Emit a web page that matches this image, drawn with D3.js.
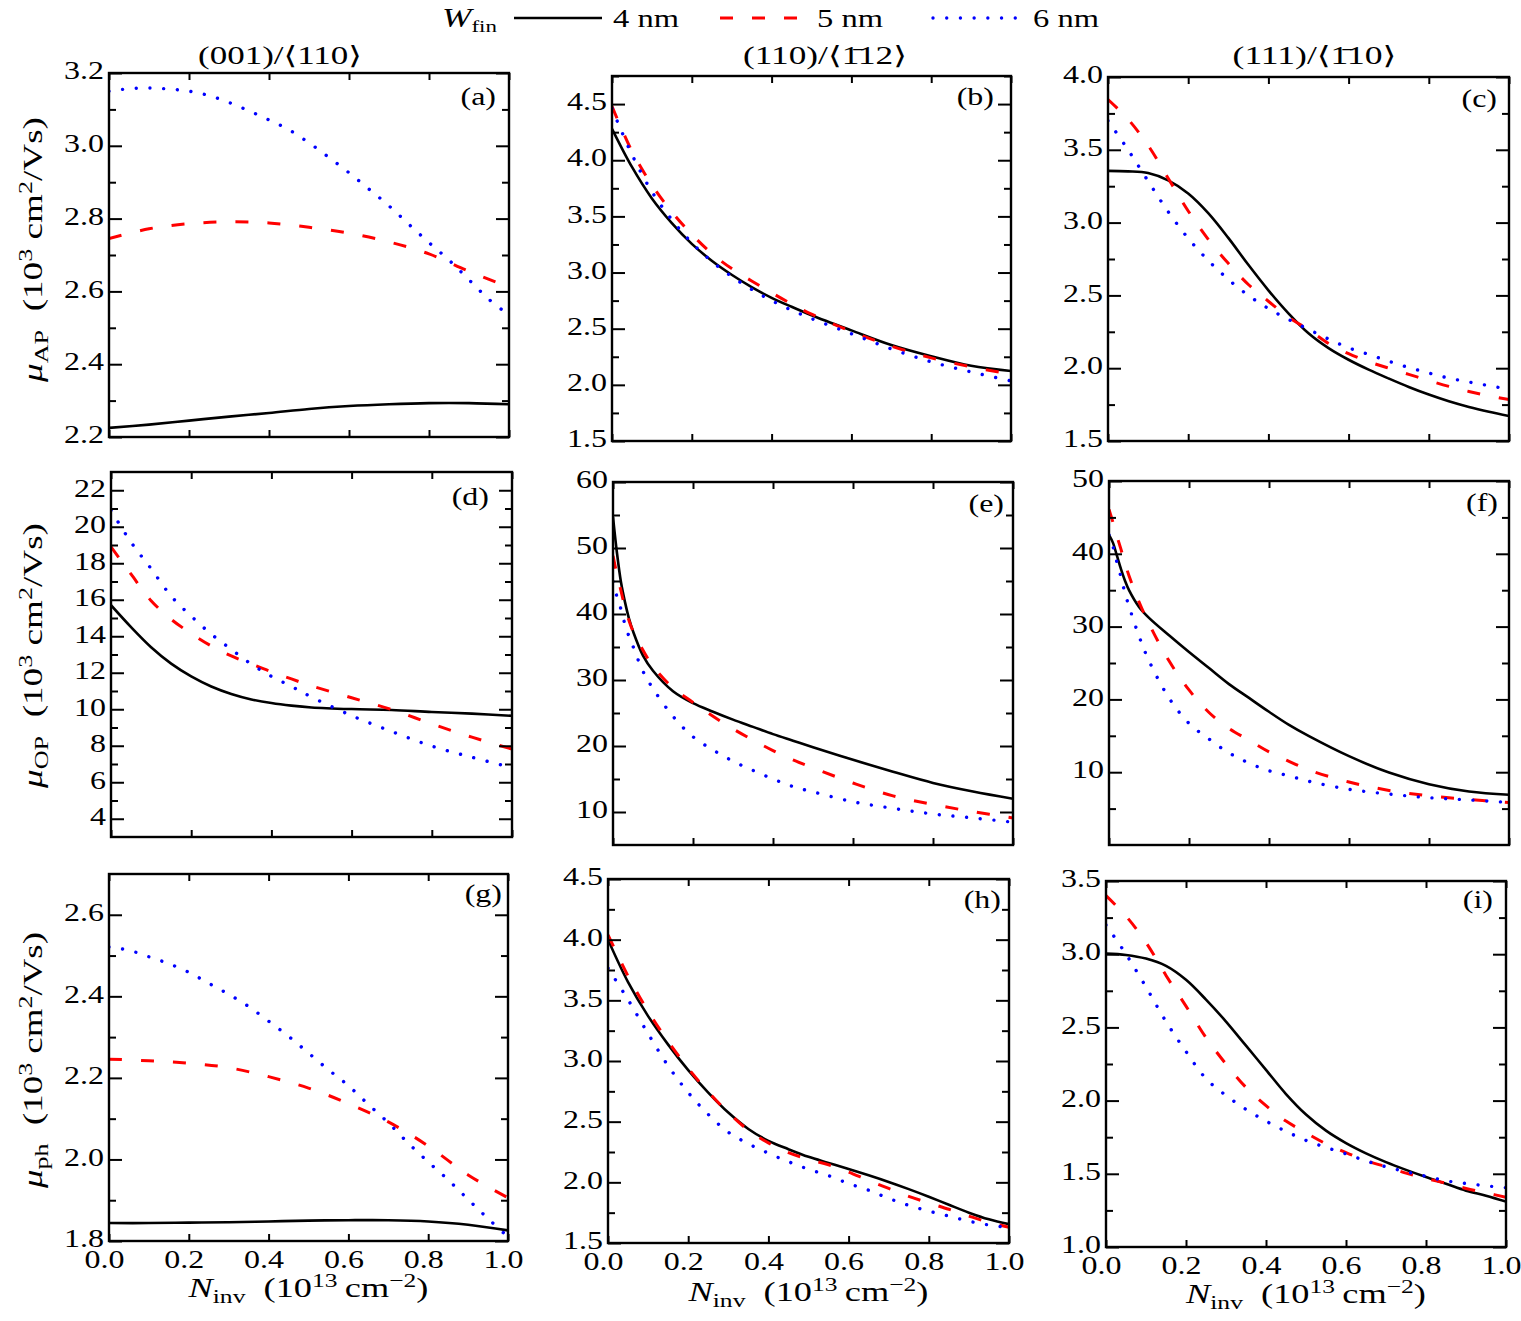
<!DOCTYPE html>
<html><head><meta charset="utf-8">
<script src="https://cdn.jsdelivr.net/npm/d3@7"></script>
<style>
body{margin:0;background:#fff;}
svg text{font-family:"Liberation Serif","DejaVu Serif",serif;fill:#000;}
</style></head><body>
<svg id="chart" width="1521" height="1321" xmlns="http://www.w3.org/2000/svg"></svg>
<script>
// ---------------- DATA ----------------
const seriesNames = ['4 nm','5 nm','6 nm'];
const colTitles = ['(001)/\u27E8110\u27E9','(110)/\u27E81\u030412\u27E9','(111)/\u27E81\u030410\u27E9'];
const rowQuantities = ['AP','OP','ph'];
const panelLetters = ['a','b','c','d','e','f','g','h','i'];

const xCoarse = [0,0.1,0.2,0.3,0.4,0.5,0.6,0.7,0.8,0.9,1.0];
const xFine = [0,0.05,0.1,0.15,0.2,0.25,0.3,0.35,0.4,0.45,0.5,0.55,0.6,0.65,0.7,0.75,0.8,0.85,0.9,0.95,1.0];
const xMid = [0,0.05,0.1,0.15,0.2,0.25,0.3,0.35,0.4,0.45,0.5,0.6,0.7,0.8,0.9,1.0];
const xSteep = [0,0.01,0.02,0.03,0.04,0.05,0.075,0.1,0.15,0.2,0.25,0.3,0.35,0.4,0.45,0.5,0.6,0.7,0.8,0.9,1.0];
const xTicks = [0,0.2,0.4,0.6,0.8,1.0];

// (a) mu_AP (001)
const aBlack = [2.225,2.234,2.245,2.256,2.266,2.277,2.285,2.290,2.293,2.293,2.290];
const aRed   = [2.745,2.772,2.786,2.791,2.788,2.776,2.760,2.736,2.703,2.655,2.612];
const aBlue  = [3.150,3.157,3.159,3.156,3.150,3.138,3.119,3.096,3.071,3.044,3.008,2.968,2.926,2.881,2.835,2.784,2.734,2.686,2.632,2.578,2.535];
// (b) mu_AP (110)
const bBlack = [4.28,3.94,3.66,3.44,3.255,3.105,2.98,2.87,2.775,2.695,2.62,2.485,2.355,2.255,2.17,2.123];
const bRed   = [4.48,4.08,3.78,3.54,3.34,3.17,3.035,2.925,2.82,2.72,2.63,2.475,2.345,2.24,2.16,2.095];
const bBlue  = [4.46,4.05,3.72,3.47,3.265,3.1,2.965,2.85,2.75,2.665,2.59,2.455,2.32,2.205,2.115,2.035];
// (c) mu_AP (111)
const cBlack = [3.355,3.352,3.34,3.29,3.2,3.065,2.895,2.71,2.535,2.377,2.24,2.138,2.058,1.99,1.929,1.871,1.819,1.773,1.734,1.701,1.672];
const cRed   = [3.845,3.71,3.53,3.305,3.08,2.885,2.72,2.575,2.46,2.35,2.265,2.17,2.1,2.045,2.0,1.958,1.915,1.875,1.84,1.81,1.785];
const cBlue  = [3.70,3.50,3.285,3.075,2.892,2.74,2.61,2.50,2.41,2.335,2.267,2.2,2.14,2.095,2.048,2.005,1.967,1.932,1.905,1.88,1.855];
// (d) mu_OP (001)
const dBlack = [15.7,14.5,13.4,12.5,11.8,11.25,10.84,10.54,10.34,10.2,10.1,10.01,9.96,9.85,9.76,9.64];
const dRed   = [18.9,17.4,15.95,14.93,14.15,13.47,12.92,12.48,12.05,11.66,11.28,10.63,9.98,9.2,8.47,7.82];
const dBlue  = [20.9,19.15,17.7,16.2,15.1,14.12,13.28,12.47,11.8,11.25,10.67,9.65,8.78,7.98,7.37,6.8];
// (e) mu_OP (110)
const eBlack = [54.7,49.2,44.8,41.8,39.3,37.4,33.7,31.4,28.3,26.5,25.2,24.0,22.9,21.8,20.8,19.8,17.9,16.1,14.4,13.1,12.0];
const eRed   = [48.8,46.0,43.5,41.0,39.0,37.4,34.5,32.1,28.8,26.6,24.5,22.6,20.9,19.3,17.9,16.7,14.4,12.45,11.15,10.05,9.1];
const eBlue  = [44.9,42.6,40.7,38.4,36.6,35.1,31.3,28.7,24.5,21.4,19.4,17.7,16.3,15.0,13.85,13.05,11.55,10.55,9.7,9.1,8.45];
// (f) mu_OP (111)
const fBlack = [42.6,41.5,39.7,37.9,36.3,35.0,32.7,31.2,28.8,26.5,24.3,22.1,20.2,18.3,16.5,14.95,12.2,9.95,8.35,7.35,6.9];
const fRed   = [46.1,44.3,42.4,40.6,38.7,37.0,33.4,30.4,25.3,21.3,18.2,16.0,14.4,12.8,11.5,10.3,8.65,7.5,6.75,6.25,5.85];
const fBlue  = [42.6,41.0,38.8,36.8,34.6,32.8,28.7,25.3,20.2,16.7,14.55,12.65,11.25,10.2,9.5,8.75,7.65,7.0,6.5,6.2,5.85];
// (g) mu_ph (001)
const gBlack = [1.844,1.844,1.845,1.846,1.848,1.850,1.851,1.851,1.848,1.840,1.826];
const gRed   = [2.246,2.242,2.236,2.225,2.203,2.175,2.137,2.092,2.033,1.962,1.906];
const gBlue  = [2.521,2.513,2.497,2.48,2.459,2.432,2.405,2.375,2.339,2.302,2.261,2.22,2.181,2.135,2.09,2.04,1.994,1.95,1.902,1.855,1.81];
// (h) mu_ph (110)
const hBlack = [4.0,3.65,3.37,3.135,2.925,2.74,2.575,2.44,2.342,2.273,2.21,2.16,2.11,2.058,2.003,1.944,1.881,1.815,1.75,1.695,1.655];
const hRed   = [4.04,3.70,3.41,3.16,2.94,2.745,2.575,2.43,2.325,2.245,2.19,2.145,2.085,2.015,1.95,1.885,1.83,1.778,1.722,1.67,1.63];
const hBlue  = [3.765,3.505,3.225,2.96,2.74,2.56,2.413,2.318,2.24,2.17,2.108,2.055,1.99,1.935,1.868,1.81,1.763,1.722,1.68,1.648,1.628];
// (i) mu_ph (111)
const iBlack = [3.004,2.995,2.97,2.92,2.825,2.69,2.54,2.375,2.21,2.045,1.905,1.795,1.71,1.64,1.58,1.527,1.478,1.432,1.385,1.35,1.31];
const iRed   = [3.40,3.26,3.08,2.855,2.645,2.43,2.25,2.09,1.965,1.86,1.78,1.705,1.645,1.59,1.548,1.505,1.468,1.435,1.40,1.37,1.34];
const iBlue  = [3.20,3.0,2.776,2.54,2.335,2.15,2.035,1.94,1.86,1.79,1.728,1.68,1.636,1.588,1.548,1.514,1.483,1.452,1.434,1.418,1.405];

// y domains and ticks
const aYDomain=[2.2,3.2], aYMajor=[2.2,2.4,2.6,2.8,3.0,3.2], aYMinor=[2.3,2.5,2.7,2.9,3.1];
const bYDomain=[1.5,4.75], bYMajor=[1.5,2.0,2.5,3.0,3.5,4.0,4.5], bYMinor=[1.75,2.25,2.75,3.25,3.75,4.25,4.75];
const cYDomain=[1.5,4.0], cYMajor=[1.5,2.0,2.5,3.0,3.5,4.0], cYMinor=[1.75,2.25,2.75,3.25,3.75];
const dYDomain=[3,23], dYMajor=[4,6,8,10,12,14,16,18,20,22], dYMinor=[5,7,9,11,13,15,17,19,21];
const eYDomain=[5,60], eYMajor=[10,20,30,40,50,60], eYMinor=[15,25,35,45,55];
const fYDomain=[0,50], fYMajor=[10,20,30,40,50], fYMinor=[5,15,25,35,45];
const gYDomain=[1.8,2.7], gYMajor=[1.8,2.0,2.2,2.4,2.6], gYMinor=[1.9,2.1,2.3,2.5];
const hYDomain=[1.5,4.5], hYMajor=[1.5,2.0,2.5,3.0,3.5,4.0,4.5], hYMinor=[1.75,2.25,2.75,3.25,3.75,4.25];
const iYDomain=[1.0,3.5], iYMajor=[1.0,1.5,2.0,2.5,3.0,3.5], iYMinor=[1.25,1.75,2.25,2.75,3.25];

// ---------------- LAYOUT ----------------
const FS = 25, K = 1.28, SUB = 17.5;
const layout = {
  a:{x0:109,x1:509,y0:73,y1:437,lx:496,ly:105},
  b:{x0:612,x1:1011,y0:76,y1:441,lx:994,ly:105},
  c:{x0:1108,x1:1509,y0:77,y1:441,lx:1497,ly:107},
  d:{x0:111,x1:512,y0:472,y1:837,lx:489,ly:505},
  e:{x0:613,x1:1013,y0:482,y1:845,lx:1004,ly:512},
  f:{x0:1109,x1:1509,y0:481,y1:845,lx:1498,ly:511},
  g:{x0:109,x1:508,y0:874,y1:1241,lx:502,ly:902},
  h:{x0:608,x1:1009,y0:879,y1:1243,lx:1001,ly:908},
  i:{x0:1106,x1:1506,y0:881,y1:1247,lx:1493,ly:908}
};
const styles = {
  black:{stroke:'#000000',width:2.6,dash:null,cap:'butt'},
  red:{stroke:'#ff0000',width:3,dash:'13,19',cap:'butt'},
  blue:{stroke:'#0000ff',width:3.4,dash:'0.01,13.7',cap:'round'}
};

const panels = [
  {id:'a',grids:[xCoarse,xCoarse,xFine],vals:[aBlack,aRed,aBlue],dom:aYDomain,maj:aYMajor,min:aYMinor,fmt:'.1f'},
  {id:'b',grids:[xMid,xMid,xMid],vals:[bBlack,bRed,bBlue],dom:bYDomain,maj:bYMajor,min:bYMinor,fmt:'.1f'},
  {id:'c',grids:[xFine,xFine,xFine],vals:[cBlack,cRed,cBlue],dom:cYDomain,maj:cYMajor,min:cYMinor,fmt:'.1f'},
  {id:'d',grids:[xMid,xMid,xMid],vals:[dBlack,dRed,dBlue],dom:dYDomain,maj:dYMajor,min:dYMinor,fmt:'d'},
  {id:'e',grids:[xSteep,xSteep,xSteep],vals:[eBlack,eRed,eBlue],dom:eYDomain,maj:eYMajor,min:eYMinor,fmt:'d'},
  {id:'f',grids:[xSteep,xSteep,xSteep],vals:[fBlack,fRed,fBlue],dom:fYDomain,maj:fYMajor,min:fYMinor,fmt:'d'},
  {id:'g',grids:[xCoarse,xCoarse,xFine],vals:[gBlack,gRed,gBlue],dom:gYDomain,maj:gYMajor,min:gYMinor,fmt:'.1f',xl:true},
  {id:'h',grids:[xFine,xFine,xFine],vals:[hBlack,hRed,hBlue],dom:hYDomain,maj:hYMajor,min:hYMinor,fmt:'.1f',xl:true},
  {id:'i',grids:[xFine,xFine,xFine],vals:[iBlack,iRed,iBlue],dom:iYDomain,maj:iYMajor,min:iYMinor,fmt:'.1f',xl:true}
];
const styleKeys = ['black','red','blue'];

const svg = d3.select('#chart');
const defs = svg.append('defs');

function stretch(sel,k,dxShift){
  sel.each(function(){
    const t=d3.select(this);
    const x=(+t.attr('x')||0)+(dxShift||0), y=+t.attr('y')||0;
    t.attr('x',0).attr('y',0).attr('transform',`translate(${x},${y}) scale(${k},1)`);
  });
}
function styleAxis(g){
  g.attr('font-family',null).attr('font-size',FS);
  g.select('.domain').remove();
  g.selectAll('.tick line').attr('stroke','#000').attr('stroke-width',2);
}

panels.forEach((p,pi)=>{
  const L = layout[p.id];
  const x = d3.scaleLinear().domain([0,1]).range([L.x0,L.x1]);
  const y = d3.scaleLinear().domain(p.dom).range([L.y1,L.y0]);
  const g = svg.append('g').attr('class','panel-'+p.id);
  defs.append('clipPath').attr('id','clip-'+p.id).append('rect')
    .attr('x',L.x0).attr('y',L.y0).attr('width',L.x1-L.x0).attr('height',L.y1-L.y0);
  const line = d3.line().x(d=>x(d[0])).y(d=>y(d[1])).curve(d3.curveCatmullRom.alpha(0.5));
  const lg = g.append('g').attr('clip-path',`url(#clip-${p.id})`);
  styleKeys.forEach((s,si)=>{
    const pts = p.grids[si].map((v,i)=>[v,p.vals[si][i]]);
    const st = styles[s];
    lg.append('path').attr('d',line(pts)).attr('fill','none')
      .attr('stroke',st.stroke).attr('stroke-width',st.width)
      .attr('stroke-linecap',st.cap).attr('stroke-linejoin','round')
      .attr('stroke-dasharray',st.dash);
  });
  // axes (inward ticks)
  const gl = g.append('g').attr('transform',`translate(${L.x0},0)`)
    .call(d3.axisLeft(y).tickValues(p.maj).tickSize(-13).tickPadding(5).tickFormat(d3.format(p.fmt)));
  styleAxis(gl);
  gl.selectAll('text').attr('dy','0.23em');
  stretch(gl.selectAll('text'),K);
  const glm = g.append('g').attr('transform',`translate(${L.x0},0)`)
    .call(d3.axisLeft(y).tickValues(p.min).tickSize(-7).tickFormat(''));
  styleAxis(glm);
  const gr = g.append('g').attr('transform',`translate(${L.x1},0)`)
    .call(d3.axisRight(y).tickValues(p.maj).tickSize(-13).tickFormat(''));
  styleAxis(gr);
  const grm = g.append('g').attr('transform',`translate(${L.x1},0)`)
    .call(d3.axisRight(y).tickValues(p.min).tickSize(-7).tickFormat(''));
  styleAxis(grm);
  const gt = g.append('g').attr('transform',`translate(0,${L.y0})`)
    .call(d3.axisTop(x).tickValues(xTicks).tickSize(-7).tickFormat(''));
  styleAxis(gt);
  const gb = g.append('g').attr('transform',`translate(0,${L.y1})`)
    .call(d3.axisBottom(x).tickValues(xTicks).tickSize(-7).tickPadding(9)
      .tickFormat(p.xl ? d3.format('.1f') : ''));
  styleAxis(gb);
  if(p.xl) stretch(gb.selectAll('text'),K,-5);
  // frame
  g.append('rect').attr('x',L.x0).attr('y',L.y0).attr('width',L.x1-L.x0).attr('height',L.y1-L.y0)
    .attr('fill','none').attr('stroke','#000').attr('stroke-width',2.4);
  // panel letter
  const t = g.append('text').attr('text-anchor','end').attr('font-size',FS)
    .attr('x',L.lx).attr('y',L.ly).text('('+panelLetters[pi]+')');
  stretch(t,K);
});

// column titles
const titleCx = [280,825,1314.5];
colTitles.forEach((s,i)=>{
  const t = svg.append('text').attr('text-anchor','middle').attr('font-size',FS).text(s);
  const len = t.node().getComputedTextLength();
  t.attr('transform',`translate(${titleCx[i]},64) scale(${164/len},1)`);
});

// y labels
const yLabCy = [249.5,655.5,1060], yLabLen=[265,265,256];
rowQuantities.forEach((q,i)=>{
  const t = svg.append('text').attr('text-anchor','middle').attr('font-size',27);
  t.append('tspan').attr('font-style','italic').text('\u03BC');
  t.append('tspan').attr('font-size',19).attr('dy',6).text(q);
  t.append('tspan').attr('dy',-6).text('\u2002(10');
  t.append('tspan').attr('font-size',19).attr('dy',-10).text('3');
  t.append('tspan').attr('dy',10).text(' cm');
  t.append('tspan').attr('font-size',19).attr('dy',-10).text('2');
  t.append('tspan').attr('dy',10).text('/Vs)');
  const len = t.node().getComputedTextLength();
  t.attr('transform',`translate(42,${yLabCy[i]}) rotate(-90) scale(${yLabLen[i]/len},1)`);
});

// x labels
[['g',1297],['h',1301],['i',1303]].forEach(([id,by])=>{
  const L = layout[id];
  const t = svg.append('text').attr('text-anchor','middle').attr('font-size',27);
  t.append('tspan').attr('font-style','italic').text('N');
  t.append('tspan').attr('font-size',19).attr('dy',6).text('inv');
  t.append('tspan').attr('dy',-6).text('\u2002(10');
  t.append('tspan').attr('font-size',19).attr('dy',-10).text('13');
  t.append('tspan').attr('dy',10).text('\u2009cm');
  t.append('tspan').attr('font-size',19).attr('dy',-10).text('\u22122');
  t.append('tspan').attr('dy',10).text(')');
  const len = t.node().getComputedTextLength();
  t.attr('transform',`translate(${(L.x0+L.x1)/2},${by}) scale(${240/len},1)`);
});

// legend
const leg = svg.append('g');
const wt = leg.append('text').attr('font-size',27);
wt.append('tspan').attr('font-style','italic').text('W');
wt.append('tspan').attr('font-size',SUB).attr('dy',5).text('fin');
const wlen = wt.node().getComputedTextLength();
wt.attr('transform',`translate(442,27) scale(${55/wlen},1)`);
const legLine = [[514,602],[720,797],[933,1016]];
const legText = [613,817,1033];
styleKeys.forEach((s,i)=>{
  const st = styles[s];
  leg.append('line').attr('x1',legLine[i][0]).attr('x2',legLine[i][1]).attr('y1',18).attr('y2',18)
    .attr('stroke',st.stroke).attr('stroke-width',st.width).attr('stroke-linecap',st.cap)
    .attr('stroke-dasharray',st.dash);
  const t = leg.append('text').attr('font-size',FS).attr('y',27).text(seriesNames[i]);
  const len = t.node().getComputedTextLength();
  t.attr('transform',`translate(${legText[i]},27) scale(${66/len},1)`).attr('y',0);
});
</script>
</body></html>
